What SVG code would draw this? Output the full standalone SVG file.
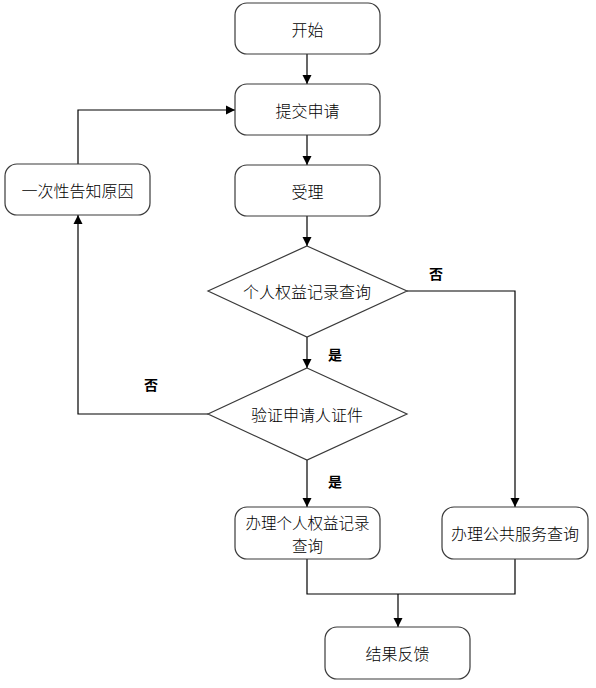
<svg xmlns="http://www.w3.org/2000/svg" width="596" height="688" viewBox="0 0 596 688">
<style>
.box{fill:#fff;stroke:#3a3a3a;stroke-width:1.2}
.t{font-family:"Noto Sans CJK SC","Liberation Sans",sans-serif;font-size:16px;font-weight:300;fill:#000;text-anchor:middle;dominant-baseline:central}
.t2{font-size:15.5px}
.lb{font-family:"Noto Sans CJK SC","Liberation Sans",sans-serif;font-size:14px;font-weight:bold;fill:#000;text-anchor:middle;dominant-baseline:central}
.c{fill:none;stroke:#000;stroke-width:1.2}
</style>
<defs>
<marker id="a" markerWidth="10" markerHeight="10" refX="9" refY="5" orient="auto" markerUnits="userSpaceOnUse">
<path d="M0,0.5 L9,5 L0,9.5 Z" fill="#000"/>
</marker>
</defs>
<rect width="596" height="688" fill="#fff"/>
<g id="connectors">
<line class="c" x1="307" y1="54" x2="307" y2="84" marker-end="url(#a)"/>
<line class="c" x1="307" y1="135" x2="307" y2="165" marker-end="url(#a)"/>
<line class="c" x1="307" y1="216" x2="307" y2="246" marker-end="url(#a)"/>
<line class="c" x1="307" y1="337" x2="307" y2="368" marker-end="url(#a)"/>
<polyline class="c" points="407,291 515,291 515,507" marker-end="url(#a)"/>
<line class="c" x1="307" y1="460" x2="307" y2="507" marker-end="url(#a)"/>
<polyline class="c" points="208,414 78,414 78,215" marker-end="url(#a)"/>
<polyline class="c" points="78,164 78,110 235,110" marker-end="url(#a)"/>
<polyline class="c" points="307,559 307,594 515,594 515,559"/>
<line class="c" x1="398" y1="594" x2="398" y2="627" marker-end="url(#a)"/>
<text class="lb" x="335" y="354">是</text>
<text class="lb" x="436" y="273">否</text>
<text class="lb" x="335" y="481">是</text>
<text class="lb" x="151" y="384">否</text>
</g>
<g id="start"><rect class="box" x="235" y="3" width="145" height="51" rx="12"/><text class="t" x="307.5" y="28.5">开始</text></g>
<g id="submit"><rect class="box" x="235" y="84" width="145" height="51" rx="12"/><text class="t" x="307.5" y="109.5">提交申请</text></g>
<g id="accept"><rect class="box" x="235" y="165" width="145" height="51" rx="12"/><text class="t" x="307.5" y="190.5">受理</text></g>
<g id="notify"><rect class="box" x="5" y="164" width="145" height="51" rx="12"/><text class="t" x="77.5" y="189.5">一次性告知原因</text></g>
<g id="decision1"><polygon class="box" points="307,246 407,291 307,337 208,291"/><text class="t" x="307" y="291">个人权益记录查询</text></g>
<g id="decision2"><polygon class="box" points="307,368 407,414 307,460 208,414"/><text class="t" x="307" y="414">验证申请人证件</text></g>
<g id="personal"><rect class="box" x="235" y="507" width="145" height="52" rx="12"/><text class="t t2" x="307.5" y="522">办理个人权益记录</text><text class="t t2" x="307.5" y="545">查询</text></g>
<g id="public"><rect class="box" x="442" y="507" width="146" height="52" rx="12"/><text class="t" x="515" y="533">办理公共服务查询</text></g>
<g id="result"><rect class="box" x="325" y="627" width="145" height="52" rx="12"/><text class="t" x="397.5" y="653">结果反馈</text></g>
</svg>
